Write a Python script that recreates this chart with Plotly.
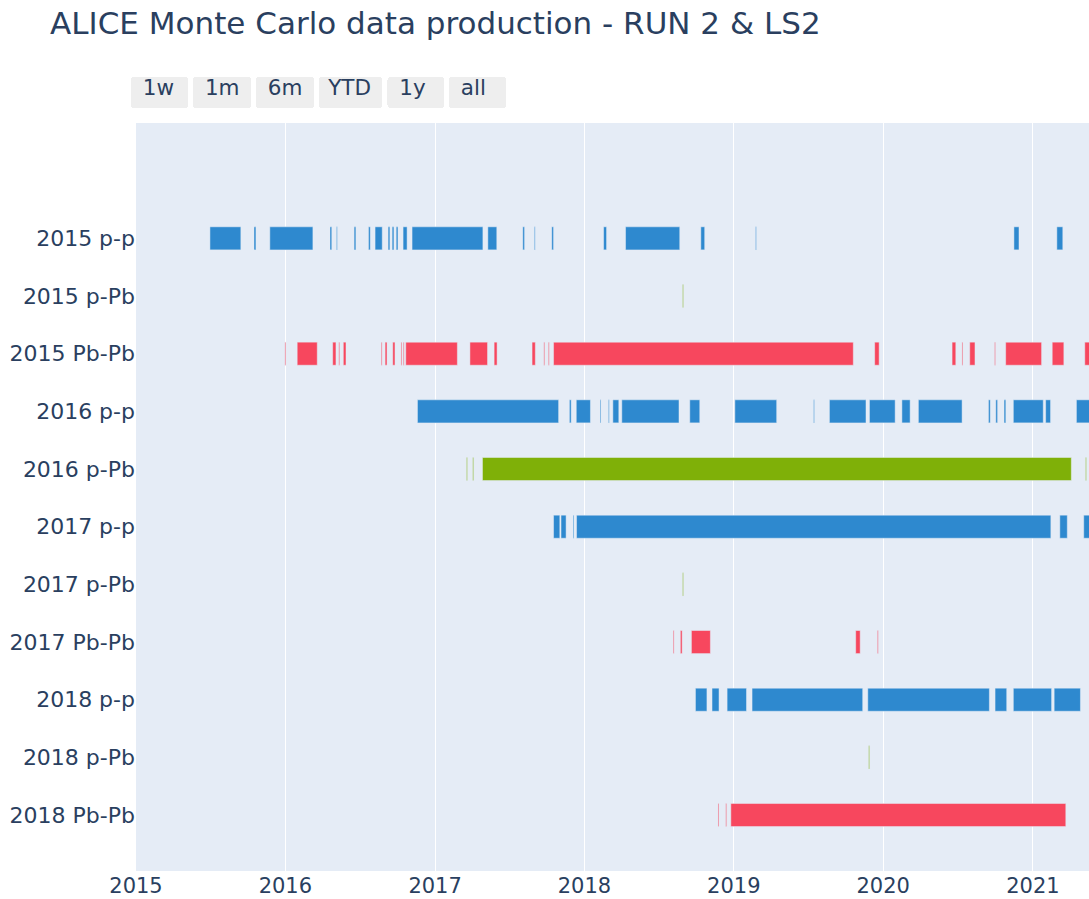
import pandas as pd
import plotly.graph_objects as go

# Row labels (top to bottom)
categories = ["2015 p-p", "2015 p-Pb", "2015 Pb-Pb", "2016 p-p", "2016 p-Pb",
              "2017 p-p", "2017 p-Pb", "2017 Pb-Pb", "2018 p-p", "2018 p-Pb", "2018 Pb-Pb"]

# Segments as (start, end) in decimal years
seg_2015_pp = [(2015.495, 2015.702), (2015.790, 2015.803), (2015.896, 2016.184),
               (2016.298, 2016.310), (2016.341, 2016.347), (2016.459, 2016.471),
               (2016.555, 2016.567), (2016.599, 2016.647), (2016.686, 2016.698),
               (2016.713, 2016.725), (2016.740, 2016.752), (2016.786, 2016.813),
               (2016.846, 2017.320), (2017.353, 2017.413), (2017.587, 2017.599),
               (2017.664, 2017.670), (2017.781, 2017.793), (2018.128, 2018.148),
               (2018.275, 2018.638), (2018.779, 2018.805), (2019.145, 2019.151),
               (2020.873, 2020.907), (2021.160, 2021.200)]
seg_2015_ppb = [(2018.657, 2018.663)]
seg_2015_pbpb = [(2015.997, 2016.003), (2016.079, 2016.213), (2016.316, 2016.338),
                 (2016.357, 2016.363), (2016.387, 2016.405), (2016.640, 2016.646),
                 (2016.666, 2016.679), (2016.717, 2016.732), (2016.772, 2016.778),
                 (2016.787, 2016.793), (2016.804, 2017.149), (2017.233, 2017.351),
                 (2017.395, 2017.415), (2017.649, 2017.671), (2017.728, 2017.734),
                 (2017.758, 2017.764), (2017.793, 2019.800), (2019.943, 2019.973),
                 (2020.460, 2020.485), (2020.526, 2020.532), (2020.578, 2020.613),
                 (2020.744, 2020.750), (2020.818, 2021.058), (2021.129, 2021.207),
                 (2021.347, 2021.450)]
seg_2016_pp = [(2016.882, 2017.827), (2017.899, 2017.911), (2017.945, 2018.040),
               (2018.104, 2018.110), (2018.160, 2018.166), (2018.190, 2018.230),
               (2018.250, 2018.633), (2018.705, 2018.772), (2019.007, 2019.287),
               (2019.534, 2019.540), (2019.640, 2019.885), (2019.908, 2020.080),
               (2020.125, 2020.180), (2020.235, 2020.527), (2020.703, 2020.715),
               (2020.752, 2020.764), (2020.807, 2020.819), (2020.869, 2021.069),
               (2021.085, 2021.118), (2021.291, 2021.450)]
seg_2016_ppb = [(2017.210, 2017.216), (2017.252, 2017.258), (2017.317, 2021.257),
                (2021.352, 2021.358)]
seg_2017_pp = [(2017.793, 2017.835), (2017.843, 2017.877), (2017.924, 2017.930),
               (2017.947, 2021.120), (2021.180, 2021.230), (2021.340, 2021.450)]
seg_2017_ppb = [(2018.657, 2018.663)]
seg_2017_pbpb = [(2018.594, 2018.600), (2018.642, 2018.654), (2018.716, 2018.843),
                 (2019.816, 2019.846), (2019.961, 2019.967)]
seg_2018_pp = [(2018.743, 2018.820), (2018.854, 2018.901), (2018.955, 2019.085),
               (2019.122, 2019.863), (2019.897, 2020.709), (2020.747, 2020.825),
               (2020.869, 2021.125), (2021.142, 2021.318)]
seg_2018_ppb = [(2019.903, 2019.909)]
seg_2018_pbpb = [(2018.894, 2018.900), (2018.946, 2018.952), (2018.980, 2021.220)]

rows = [seg_2015_pp, seg_2015_ppb, seg_2015_pbpb, seg_2016_pp, seg_2016_ppb,
        seg_2017_pp, seg_2017_ppb, seg_2017_pbpb, seg_2018_pp, seg_2018_ppb, seg_2018_pbpb]

system_colors = {"p-p": "#2E89CF", "p-Pb": "#7FB008", "Pb-Pb": "#F7475E"}

# Range selector button labels (padded with non-breaking / thin / hair spaces for button width)
NB, TH, HS = "\u00a0", "\u2009", "\u200a"
button_labels = [NB + "1w" + NB + HS, NB + "1m" + TH + HS, NB + "6m" + TH + HS,
                 TH + "YTD" + TH + HS, NB + "1y" + NB + TH + HS, NB + "all" + NB + TH + TH]

x_range = ["2015-01-01", "2021-05-18"]
ytick_font_size = 22
xtick_font_size = 21


def to_ts(v):
    y = int(v)
    start = pd.Timestamp(year=y, month=1, day=1)
    days = (pd.Timestamp(year=y + 1, month=1, day=1) - start).days
    return start + pd.Timedelta(days=(v - y) * days)


records = []
for cat, segs in zip(categories, rows):
    system = cat.split(" ", 1)[1]
    for s, e in segs:
        records.append({"cat": cat, "system": system, "start": to_ts(s), "end": to_ts(e)})
df = pd.DataFrame(records)

fig = go.Figure()
for system, color in system_colors.items():
    d = df[df["system"] == system]
    fig.add_trace(go.Bar(
        orientation="h",
        y=d["cat"],
        base=d["start"].dt.strftime("%Y-%m-%d %H:%M:%S"),
        x=(d["end"] - d["start"]).dt.total_seconds() * 1000,
        marker_color=color,
        width=0.4,
        name=system,
    ))

fig.update_layout(
    width=1089, height=899,
    margin=dict(l=136, r=0, t=123, b=28),
    font=dict(family="Verdana, 'DejaVu Sans', sans-serif", color="#2a3f5f"),
    title=dict(text="ALICE Monte Carlo data production - RUN 2 & LS2",
               x=0.046, xanchor="left", y=0.974, yanchor="middle",
               font=dict(size=31)),
    barmode="overlay",
    showlegend=False,
    xaxis=dict(
        type="date", range=x_range, dtick="M12", tickformat="%Y",
        tickfont=dict(size=xtick_font_size), automargin=False,
        rangeselector=dict(
            buttons=[
                dict(count=7, label=button_labels[0], step="day", stepmode="backward"),
                dict(count=1, label=button_labels[1], step="month", stepmode="backward"),
                dict(count=6, label=button_labels[2], step="month", stepmode="backward"),
                dict(count=1, label=button_labels[3], step="year", stepmode="todate"),
                dict(count=1, label=button_labels[4], step="year", stepmode="backward"),
                dict(label=button_labels[5], step="all"),
            ],
            x=-0.005, xanchor="left", y=1.02, yanchor="bottom",
            font=dict(size=21.5),
        ),
    ),
    yaxis=dict(
        type="category", categoryorder="array", categoryarray=categories,
        range=[10.97, -2], tickfont=dict(size=ytick_font_size), automargin=False,
    ),
)

fig.write_html("out.html",
               config={"displayModeBar": False},
               post_script="document.body.style.margin='0';document.body.style.overflow='hidden';")
